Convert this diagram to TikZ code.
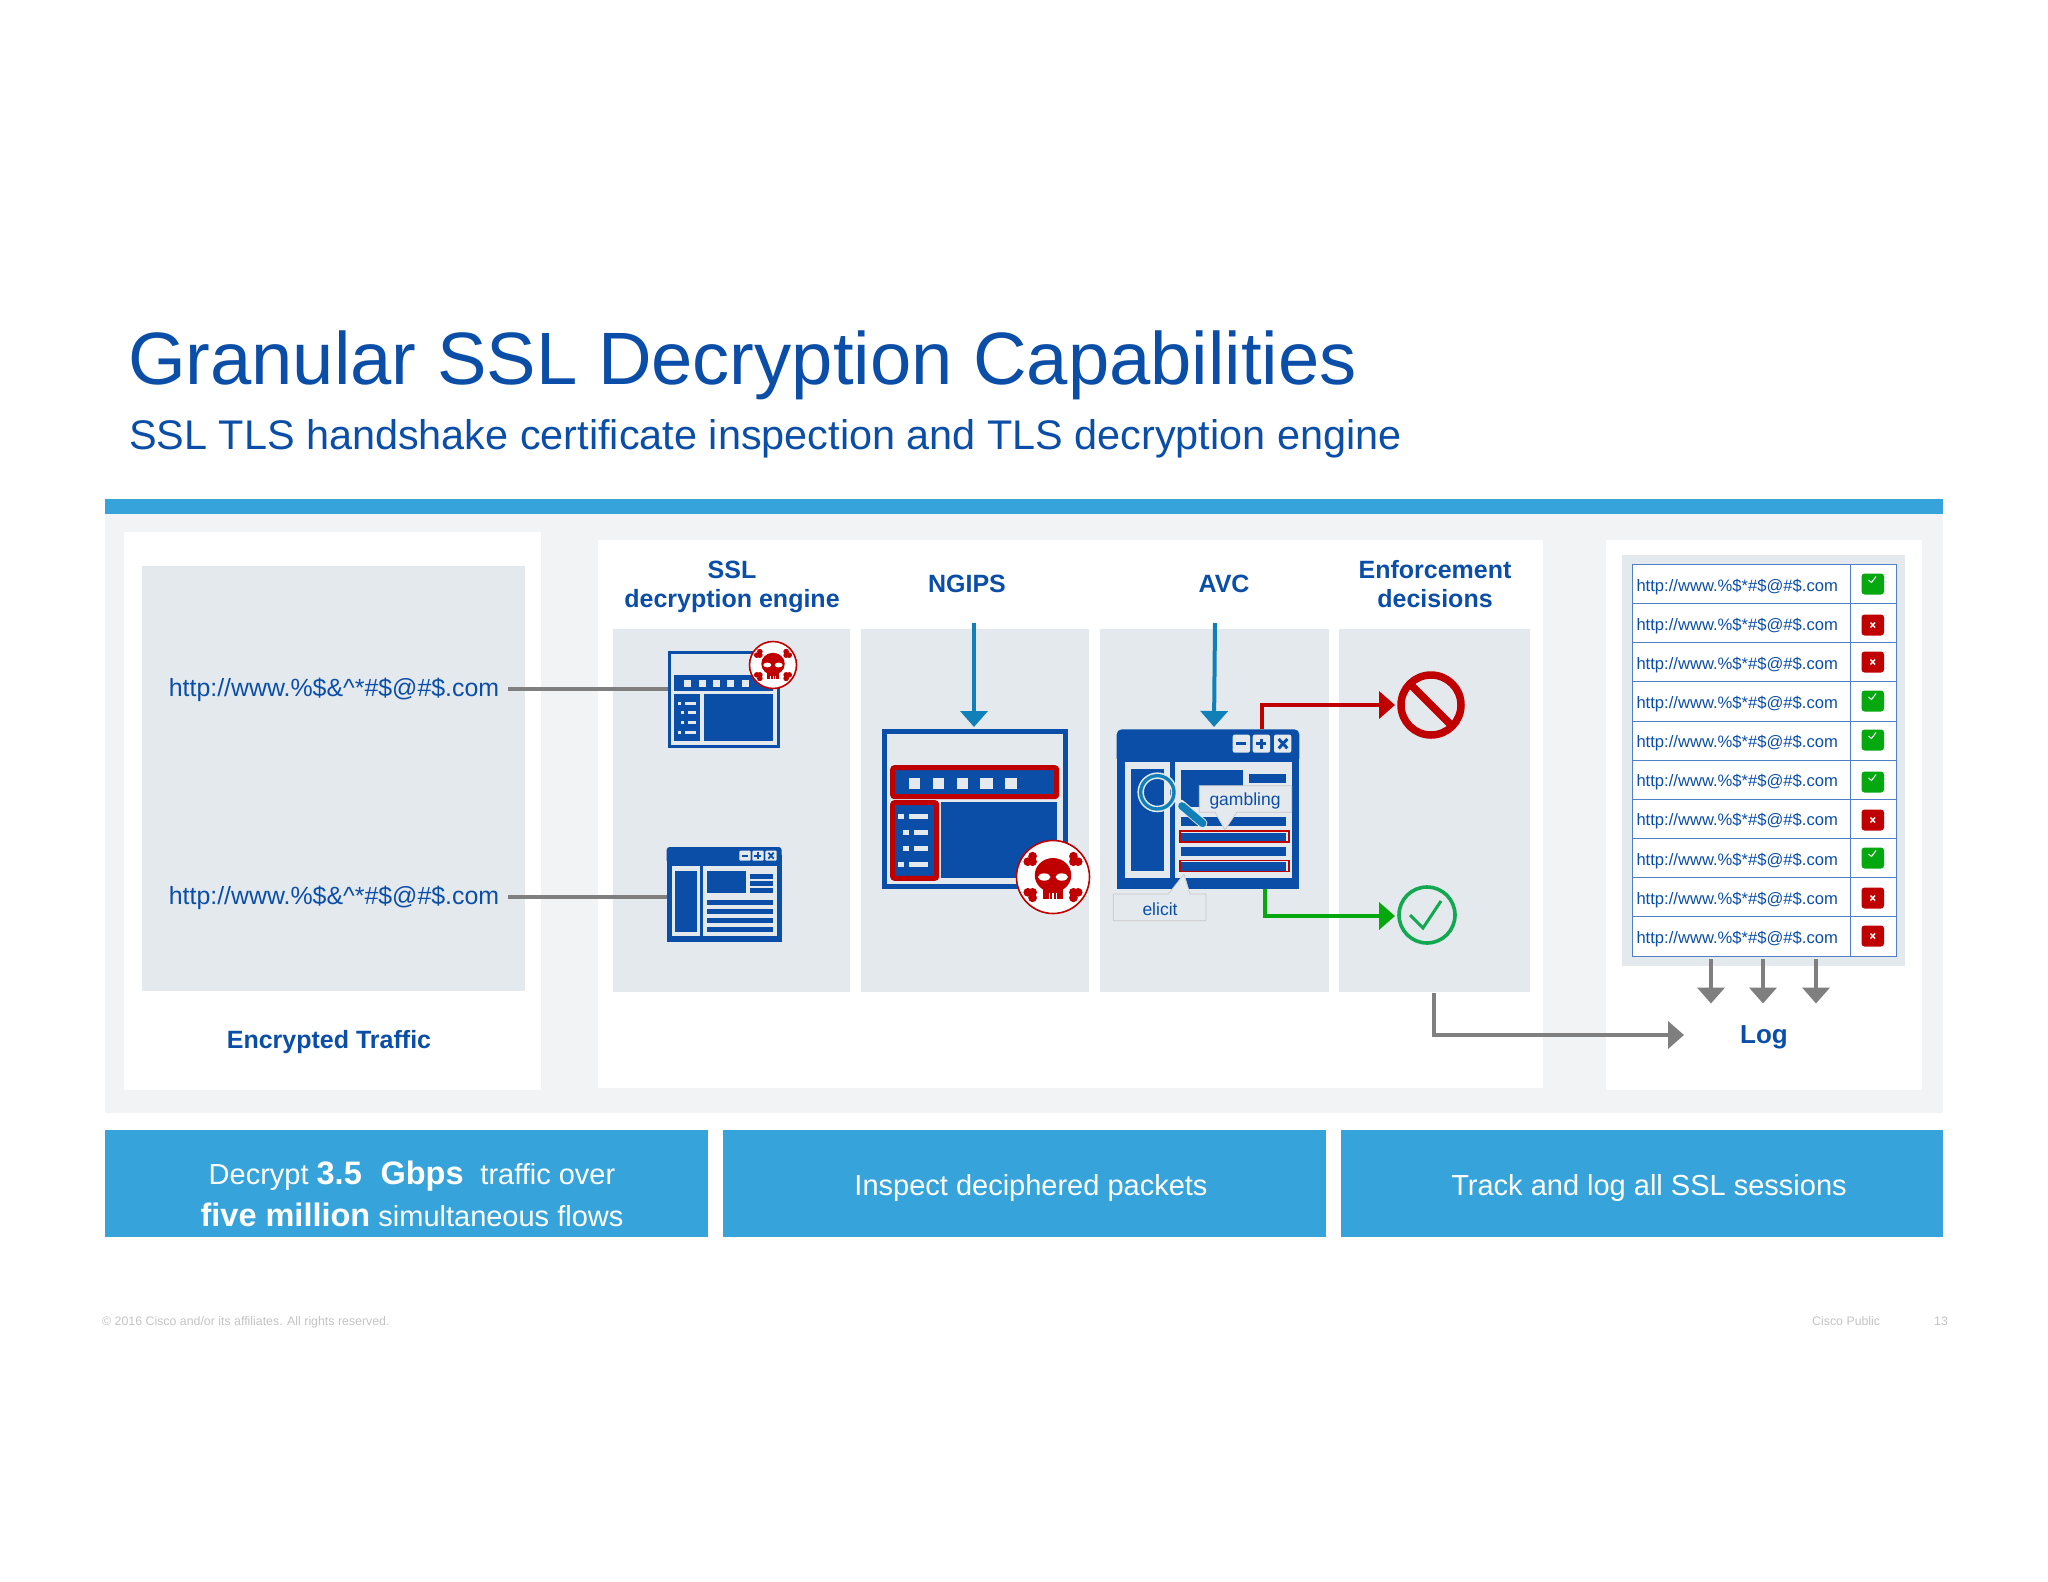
\documentclass[tikz,border=0pt]{standalone}
\usepackage{fontspec}
\setmainfont{Liberation Sans}
\usetikzlibrary{arrows.meta,calc}
\definecolor{ciscoblue}{HTML}{0B4EA8}
\definecolor{barblue}{HTML}{36A4DA}
\definecolor{band}{HTML}{F2F3F5}
\definecolor{sub}{HTML}{E4E9ED}
\definecolor{teal}{HTML}{1180B8}
\definecolor{alert}{HTML}{C00000}
\definecolor{okgreen}{HTML}{06A80F}
\definecolor{ringgreen}{HTML}{12A84F}
\definecolor{flow}{HTML}{7F7F7F}
\definecolor{foot}{HTML}{C4C4C4}
\definecolor{grid}{HTML}{4F7FC4}
\tikzset{
  txt/.style={inner sep=0pt,outer sep=0pt,text=ciscoblue},
  head/.style={txt,align=center,font=\fontsize{25}{29}\selectfont\bfseries},
  urlbig/.style={txt,font=\fontsize{24.9}{30}\selectfont},
  urlsmall/.style={txt,anchor=west,font=\fontsize{16.6}{20}\selectfont},
  bartext/.style={inner sep=0pt,text=white,align=center,font=\fontsize{29}{42}\selectfont},
  footer/.style={inner sep=0pt,text=foot,font=\fontsize{12.35}{14}\selectfont},
  flowline/.style={draw=flow,line width=3.6pt},
  tipline/.style={line width=4pt,-{Triangle[length=16pt,width=27pt]}},
  callout/.style={fill=sub,draw=black!22,line width=.7pt,line join=round},
  gridline/.style={draw=grid,line width=1pt},
}
\newcommand{\skullmark}[3]{%
  \begin{scope}[shift={(#1,#2)},x=#3pt,y=-#3pt]
    \fill[white,draw=alert,line width=1.6pt] (0,0) circle (1);
    \fill[alert] (0,-.05) ellipse (.5 and .47);
    \fill[alert] (-.27,.25) rectangle (.27,.59);
    \fill[white] (-.24,0) ellipse (.17 and .1);
    \fill[white] (.24,0) ellipse (.17 and .1);
    \fill[white] (-.115,.45) rectangle (-.075,.6);
    \fill[white] (-.02,.45) rectangle (.02,.6);
    \fill[white] (.075,.45) rectangle (.115,.6);
    \foreach \sx/\sy in {-1/-1,1/-1,-1/1,1/1}{
      \fill[alert] ({\sx*.56},{\sy*.42}) circle (.12);
      \fill[alert] ({\sx*.69},{\sy*.42}) circle (.12);
      \fill[alert] ({\sx*.56},{\sy*.57}) circle (.12);
    }
  \end{scope}}
\begin{document}
\begin{tikzpicture}[x=1pt,y=-1pt]
\useasboundingbox (0,0) rectangle (2048,1582);
\fill[white] (0,0) rectangle (2048,1582);
% title
\node[txt,anchor=west,font=\fontsize{74.2}{80}\selectfont] (title) at (128,365) {Granular SSL Decryption Capabilities};
\node[txt,anchor=west,font=\fontsize{41.4}{46}\selectfont] (subtitle) at (129,439) {SSL TLS handshake certificate inspection and TLS decryption engine};
% bands
\fill[barblue] (105,499) rectangle (1943,514);
\fill[band] (105,514) rectangle (1943,1113);
\fill[white] (124,532) rectangle (541,1090);
\fill[white] (598,540) rectangle (1543,1088);
\fill[white] (1606,540) rectangle (1922,1090);
\fill[sub] (142,566) rectangle (525,991);
\fill[sub] (613,629) rectangle (850,992);
\fill[sub] (861,629) rectangle (1089,992);
\fill[sub] (1100,629) rectangle (1329,992);
\fill[sub] (1339,629) rectangle (1530,992);
% column heads
\node[head] (hssl) at (732,587) {SSL\\decryption engine};
\node[head] (hngips) at (967,584) {NGIPS};
\node[head] (havc) at (1224,584) {AVC};
\node[head] (henf) at (1435,584.5) {Enforcement\\decisions};
\node[head] (henc) at (329,1042.5) {Encrypted Traffic};
\node[head,font=\fontsize{26}{29}\selectfont\bfseries] (hlog) at (1764,1037.5) {Log};
% left urls
\node[urlbig] (u1) at (334,690) {http://www.\%\$\&\^{}*\#\$@\#\$.com};
\node[urlbig] (u2) at (334,898) {http://www.\%\$\&\^{}*\#\$@\#\$.com};
\coordinate (u1e) at (508,689);
\coordinate (u2e) at (508,897);
\coordinate (ic1w) at (668,689);
\coordinate (ic2w) at (667,897);
\draw[flowline] (u1e) -- (ic1w);
\draw[flowline] (u2e) -- (ic2w);
% zoom-1 coordinates
\begin{scope}[shift={(600,530)},x=.33333pt,y=-.33333pt]
  % icon 1
  \draw[ciscoblue,line width=3pt] (207,366) rectangle (535,648);
  \fill[ciscoblue] (222,436) rectangle (520,484);
  \foreach \a in {253,297,339,382,426} \fill[sub] (\a,451) rectangle ++(20,19);
  \fill[ciscoblue] (222,493) rectangle (300,632);
  \fill[ciscoblue] (311,493) rectangle (520,632);
  \foreach \yy/\xs in {519/233,548/243,577/243,606/233}{
    \fill[sub] (\xs,515) ++(0,{\yy-515}) ++(0,-4) rectangle ++(9,9);
    \fill[sub] ({\xs+21},{\yy-4}) rectangle (288,{\yy+5});
  }
  % icon 2
  \fill[ciscoblue,rounded corners=3pt] (200,951) rectangle (545,1000);
  \fill[ciscoblue] (200,975) rectangle (545,1237);
  \fill[sub] (215,1008) rectangle (300,1218);
  \fill[sub] (310,1008) rectangle (530,1218);
  \fill[ciscoblue] (226,1022) rectangle (290,1207);
  \fill[ciscoblue] (322,1024) rectangle (438,1090);
  \foreach \yy in {1032,1053,1074} \fill[ciscoblue] (450,\yy) rectangle (520,{\yy+16});
  \foreach \yy in {1110,1136,1163,1190} \fill[ciscoblue] (322,\yy) rectangle (520,{\yy+16});
  \foreach \a in {418,457,496} \fill[sub,rounded corners=1pt] (\a,962) rectangle ++(34,30);
  \draw[ciscoblue,line width=1.8pt] (425,977) -- (445,977);
  \draw[ciscoblue,line width=1.8pt] (463,977) -- (484,977) (473.5,967) -- (473.5,987);
  \draw[ciscoblue,line width=1.8pt] (505,968) -- (521,986) (521,968) -- (505,986);
  % NGIPS icon
  \draw[ciscoblue,line width=5pt] (853,605) rectangle (1395,1070);
  \fill[ciscoblue] (1022,815) rectangle (1370,1045);
  \fill[ciscoblue,draw=alert,line width=5pt,rounded corners=2pt] (878,713) rectangle (1370,800);
  \foreach \a/\w in {927/33,998/34,1070/33,1141/37,1215/35} \fill[sub] (\a,744) rectangle ++(\w,33);
  \fill[ciscoblue,draw=alert,line width=5pt,rounded corners=2pt] (878,818) rectangle (1010,1045);
  \foreach \yy/\xs in {858/895,906/910,955/910,1003/895}{
    \fill[sub] (\xs,{\yy-7}) rectangle ++(16,15);
    \fill[sub] ({\xs+32},{\yy-7}) rectangle (985,{\yy+8});
  }
\end{scope}
\skullmark{773}{665}{23.5}
\skullmark{1053}{877}{36.5}
% top arrows
\coordinate (ng0) at (974,623);
\coordinate (ng1) at (974,727);
\draw[teal,tipline] (ng0) -- (ng1);
\coordinate (av0) at (1215,623);
\coordinate (av1) at (1214,727);
\draw[teal,tipline] (av0) -- (av1);
% decisions
\coordinate (rd0) at (1262,729);
\coordinate (rd1) at (1395,705);
\coordinate (gr0) at (1265,889);
\coordinate (gr1) at (1395,916);
\draw[alert,tipline] (rd0) |- (rd1);
\draw[okgreen,tipline] (gr0) |- (gr1);
\coordinate (deny) at (1431,705);
\draw[alert,line width=7.5pt] (deny) circle (30);
\draw[alert,line width=7.5pt] ($(deny)+(-21,-21)$) -- ($(deny)+(21,21)$);
\coordinate (allow) at (1427,915);
\draw[ringgreen,line width=3.6pt] (allow) circle (28);
\draw[ringgreen,line width=3pt] (1410,915) -- (1423,928) -- (1441,901);
% AVC icon zoom-2 coordinates
\begin{scope}[shift={(1080,530)},x=.33333pt,y=-.33333pt]
  \fill[ciscoblue,rounded corners=5pt] (110,598) rectangle (658,700);
  \fill[ciscoblue] (110,650) rectangle (658,1077);
  \fill[sub] (134,695) rectangle (270,1043);
  \fill[ciscoblue] (152,716) rectangle (253,1023);
  \fill[sub] (285,695) rectangle (635,1043);
  \fill[ciscoblue] (303,720) rectangle (488,832);
  \fill[ciscoblue] (506,733) rectangle (617,758);
  \fill[ciscoblue] (303,862) rectangle (617,888);
  \fill[ciscoblue] (303,952) rectangle (617,978);
  \fill[ciscoblue] (303,908) rectangle (617,934);
  \fill[ciscoblue] (303,996) rectangle (617,1022);
  \draw[alert,line width=1.6pt] (300,903) rectangle (627,936);
  \draw[alert,line width=1.6pt] (300,991) rectangle (627,1024);
  \foreach \a in {458,518,582} \fill[sub,rounded corners=2pt] (\a,614) rectangle ++(52,54);
  \draw[ciscoblue,line width=3pt] (469,641) -- (499,641);
  \draw[ciscoblue,line width=3pt] (529,641) -- (559,641) (544,626) -- (544,656);
  \draw[ciscoblue,line width=3pt] (596,627) -- (622,655) (622,627) -- (596,655);
  % callouts
  \path[callout] (358,767) -- (635,767) -- (635,847) -- (470,847) -- (435,900) -- (405,847) -- (358,847) -- cycle;
  \path[callout] (100,1092) -- (265,1092) -- (312,1032) -- (330,1092) -- (378,1092) -- (378,1172) -- (100,1172) -- cycle;
  \node[txt,font=\fontsize{17.5}{20}\selectfont] (gamb) at (495,812) {gambling};
  \node[txt,font=\fontsize{17.5}{20}\selectfont] (elic) at (240,1137) {elicit};
  % magnifier
  \draw[sub,line width=6.5pt] (232,787) circle (50);
  \draw[teal,line width=3.4pt] (232,787) circle (50);
  \draw[sub,line width=9.5pt,line cap=round] (300,822) -- (368,880);
  \draw[teal,line width=7.6pt,line cap=round] (306,828) -- (368,880);
\end{scope}
% log connector
\coordinate (lg0) at (1434,993);
\coordinate (lg1) at (1684,1035);
\draw[flow,tipline] (lg0) |- (lg1);
% log table
\fill[sub] (1622,555) rectangle (1905,966);
\fill[white,gridline] (1632.5,564.5) rectangle (1896,956);
\draw[gridline] (1850,564.5) -- (1850,956);
\foreach \i in {1,...,9} \draw[gridline] (1632.5,{564.5+39.15*\i}) -- (1896,{564.5+39.15*\i});
\foreach \by/\kind [count=\i] in {584/y,625/n,662/n,701/y,740/y,782/y,820/n,858/y,898/n,936/n}{
  \node[urlsmall] (row\i) at (1636.5,{567+39.15*(\i-.5)}) {http://www.\%\$*\#\$@\#\$.com};
  \if\kind y
    \fill[okgreen,rounded corners=3pt] (1861.5,{\by-10.5}) rectangle (1884,{\by+10.5});
    \draw[white,line width=1pt] (1868.5,{\by-4}) -- (1871.5,{\by-1.5}) -- (1876,{\by-7.5});
  \else
    \fill[alert,rounded corners=3pt] (1861.5,{\by-10.5}) rectangle (1884,{\by+10.5});
    \draw[white,line width=1.4pt] (1870.5,{\by-2.5}) -- (1875,{\by+2.5}) (1875,{\by-2.5}) -- (1870.5,{\by+2.5});
  \fi
}
\foreach \xx [count=\i] in {1711,1763,1816}{
  \coordinate (dn\i a) at (\xx,959);
  \coordinate (dn\i b) at (\xx,1003.5);
  \draw[flow,tipline] (dn\i a) -- (dn\i b);
}
% bottom bars
\fill[barblue] (105,1130) rectangle (708,1237);
\fill[barblue] (723,1130) rectangle (1326,1237);
\fill[barblue] (1341,1130) rectangle (1943,1237);
\node[bartext] (b1) at (412,1194) {Decrypt {\fontsize{32.5}{42}\selectfont\bfseries 3.5\hspace{.3em} Gbps}\hspace{.3em} traffic over\\{\fontsize{32.5}{42}\selectfont\bfseries five million} simultaneous flows};
\node[bartext] (b2) at (1031,1187.5) {Inspect deciphered packets};
\node[bartext] (b3) at (1649,1187.5) {Track and log all SSL sessions};
% footer
\node[footer,anchor=west] (f1) at (102,1322) {© 2016 Cisco and/or its affiliates. All rights reserved.};
\node[footer,anchor=west] (f2) at (1812,1321) {Cisco Public};
\node[footer,anchor=west] (f3) at (1934,1321) {13};
\end{tikzpicture}
\end{document}
